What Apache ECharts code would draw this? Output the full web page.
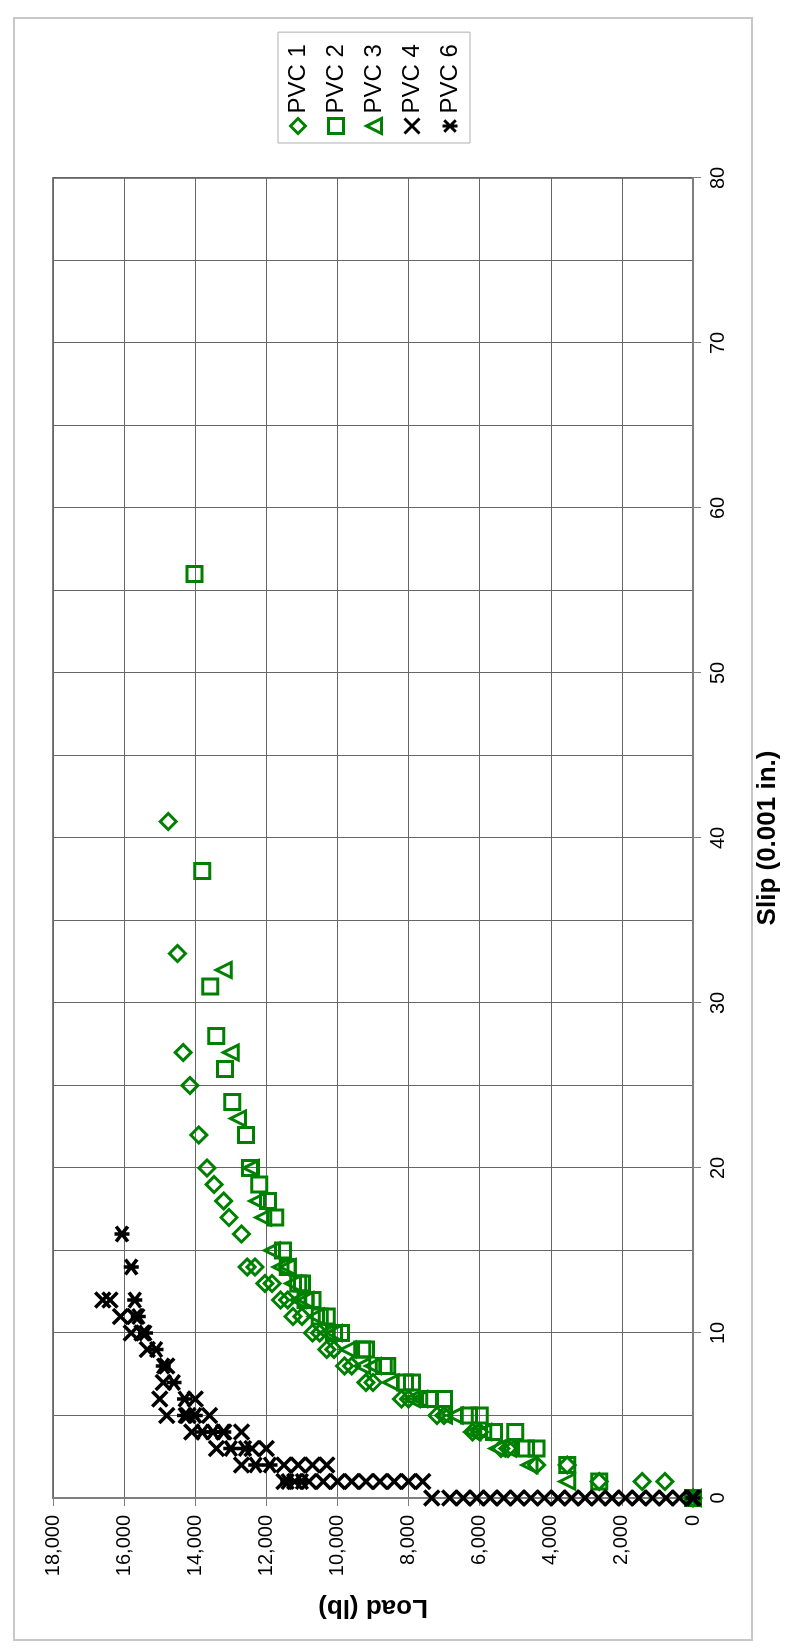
<!DOCTYPE html>
<html>
<head>
<meta charset="utf-8">
<title>Load vs Slip</title>
<script src="https://cdn.jsdelivr.net/npm/echarts@6/dist/echarts.min.js"></script>
<style>
  html, body { margin: 0; padding: 0; background: #fff; }
  #page { position: relative; width: 801px; height: 1648px; overflow: hidden; background: #fff; }
  /* the chart is laid out landscape and turned a quarter turn counter-clockwise */
  #chart {
    position: absolute; left: 0; top: 1648px;
    width: 1648px; height: 801px;
    transform-origin: 0 0; transform: rotate(-90deg);
  }
</style>
</head>
<body>
<div id="page"><div id="chart"></div></div>
<script>
// Slip in 0.001 in., load in lb
const slipTicks = [0, 10, 20, 30, 40, 50, 60, 70, 80];
const loadTicks = [0, 2000, 4000, 6000, 8000, 10000, 12000, 14000, 16000, 18000];

const pvc1Slip = [0, 1, 1, 1, 2, 2, 3, 3, 4, 4, 5, 5, 6, 6, 7, 7, 8, 8, 9, 9, 10, 10, 11, 11, 12, 12, 13, 13, 14, 14, 16, 17, 18, 19, 20, 22, 25, 27, 33, 41];
const pvc1Load = [0, 790, 1430, 2640, 3540, 4400, 5200, 5400, 6000, 6200, 7000, 7200, 8000, 8200, 9000, 9200, 9600, 9800, 10100, 10300, 10500, 10700, 11000, 11250, 11400, 11600, 11840, 12040, 12320, 12540, 12700, 13050, 13200, 13470, 13670, 13900, 14150, 14340, 14500, 14760];

const pvc2Slip = [0, 1, 2, 3, 3, 4, 4, 5, 5, 6, 6, 7, 7, 8, 8, 9, 9, 10, 10, 11, 11, 12, 12, 13, 13, 14, 15, 17, 18, 19, 20, 22, 24, 26, 28, 31, 38, 56];
const pvc2Load = [0, 2640, 3540, 4400, 4700, 5000, 5600, 6000, 6300, 7000, 7400, 7900, 8100, 8600, 8700, 9200, 9300, 9900, 10100, 10300, 10500, 10700, 10900, 11000, 11100, 11400, 11530, 11750, 11950, 12200, 12460, 12570, 12960, 13160, 13410, 13580, 13800, 14020];

const pvc3Slip = [0, 1, 2, 3, 3, 4, 4, 5, 5, 6, 6, 7, 8, 8, 9, 10, 10, 11, 12, 12, 13, 14, 14, 15, 17, 18, 20, 23, 27, 32];
const pvc3Load = [0, 3540, 4600, 5200, 5500, 5900, 6200, 6700, 7000, 7700, 7900, 8500, 9000, 9300, 9700, 10100, 10300, 10600, 10900, 11100, 11250, 11400, 11600, 11840, 12090, 12260, 12430, 12800, 13000, 13200];

const pvc4Slip = [0, 0, 0, 0, 0, 0, 0, 0, 0, 0, 0, 0, 0, 0, 0, 0, 0, 0, 0, 0,
                  1, 1, 1, 1, 1, 1, 1, 1, 1, 1, 1,
                  2, 2, 2, 2, 2, 3, 3, 3, 4, 4, 4, 5, 5, 5, 6, 6, 7, 8, 9, 10, 10, 11, 11, 12, 12];
const pvc4Load = [0, 380, 760, 1140, 1520, 1900, 2280, 2660, 3040, 3420, 3800, 4180, 4560, 4940, 5320, 5700, 6080, 6460, 6840, 7350,
                  7600, 8000, 8400, 8800, 9200, 9600, 10000, 10400, 10800, 11200, 11500,
                  10300, 10700, 11100, 11500, 12700, 12000, 12400, 13400, 12700, 13200, 14100, 13600, 14200, 14800, 14000, 15000, 14900, 14800, 15350, 15500, 15800, 15700, 16100, 16400, 16600];

const pvc6Slip = [0, 1, 1, 2, 2, 3, 3, 4, 4, 4, 5, 5, 6, 7, 8, 9, 10, 11, 12, 14, 16];
const pvc6Load = [0, 11000, 11400, 11900, 12300, 12600, 13000, 13200, 13500, 13800, 14000, 14300, 14300, 14600, 14900, 15100, 15400, 15600, 15700, 15800, 16060];

const seriesNames = ['PVC 1', 'PVC 2', 'PVC 3', 'PVC 4', 'PVC 6'];

const GREEN = '#008000';
const BLACK = '#000000';
const FONT = 'Liberation Sans, Arial, sans-serif';

const crossPath = 'path://M0,0L10,10M10,0L0,10';
const starPath = 'path://M0,0L10,10M10,0L0,10M5,-1.5L5,11.5';

function pairs(xs, ys) { return xs.map((x, i) => [x, ys[i]]); }

function hollow(color, width) {
  return { color: 'rgba(0,0,0,0)', borderColor: color, borderWidth: width, opacity: 1 };
}

const chart = echarts.init(document.getElementById('chart'), null, { renderer: 'canvas' });

const gridLine = { color: '#666666', width: 1 };
const axisGray = '#7f7f7f';

chart.setOption({
  backgroundColor: '#ffffff',
  animation: false,
  graphic: [{
    type: 'rect',
    shape: { x: 8, y: 14, width: 1622, height: 738 },
    style: { fill: 'none', stroke: '#c8c8c8', lineWidth: 2 },
    silent: true
  }],
  grid: {
    left: 150, right: 178, top: 53, bottom: 108,
    show: true, borderColor: axisGray, borderWidth: 2, backgroundColor: '#fff'
  },
  legend: {
    orient: 'vertical',
    left: 1505, top: 278,
    padding: [8, 12, 8, 8],
    itemWidth: 15, itemHeight: 15, itemGap: 14,
    borderColor: '#b0b0b0', borderWidth: 1,
    backgroundColor: '#fff',
    itemStyle: { borderWidth: 3 },
    textStyle: { fontSize: 24, color: '#000', fontFamily: FONT, lineHeight: 24 },
    data: seriesNames
  },
  xAxis: {
    type: 'value',
    min: slipTicks[0], max: slipTicks[slipTicks.length - 1], interval: 10,
    name: 'Slip (0.001 in.)',
    nameLocation: 'middle', nameGap: 62,
    nameTextStyle: { fontSize: 26, fontWeight: 'bold', color: '#000', fontFamily: FONT },
    axisLine: { show: true, onZero: false, lineStyle: { color: axisGray, width: 2 } },
    axisTick: { show: true, length: 8, lineStyle: { color: axisGray, width: 1 } },
    minorTick: { show: false, splitNumber: 2 },
    minorSplitLine: { show: true, lineStyle: gridLine },
    axisLabel: { fontSize: 20, color: '#000', margin: 15, fontFamily: FONT },
    splitLine: { show: true, lineStyle: gridLine }
  },
  yAxis: {
    type: 'value',
    min: loadTicks[0], max: loadTicks[loadTicks.length - 1], interval: 2000,
    name: 'Load (lb)',
    nameLocation: 'middle', nameGap: 96, nameRotate: 90,
    nameTextStyle: { fontSize: 26, fontWeight: 'bold', color: '#000', fontFamily: FONT },
    axisLine: { show: true, onZero: false, lineStyle: { color: axisGray, width: 2 } },
    axisTick: { show: true, length: 8, lineStyle: { color: axisGray, width: 1 } },
    axisLabel: {
      fontSize: 20, color: '#000', margin: 17, fontFamily: FONT,
      formatter: v => v.toLocaleString('en-US')
    },
    splitLine: { show: true, lineStyle: gridLine }
  },
  series: [
    {
      name: seriesNames[0], type: 'scatter', symbol: 'diamond', symbolSize: 16,
      itemStyle: hollow(GREEN, 3),
      data: pairs(pvc1Slip, pvc1Load)
    },
    {
      name: seriesNames[1], type: 'scatter', symbol: 'rect', symbolSize: 15,
      itemStyle: hollow(GREEN, 3),
      data: pairs(pvc2Slip, pvc2Load)
    },
    {
      name: seriesNames[2], type: 'scatter', symbol: 'triangle', symbolSize: 15,
      itemStyle: hollow(GREEN, 3),
      data: pairs(pvc3Slip, pvc3Load)
    },
    {
      name: seriesNames[3], type: 'scatter', symbol: crossPath, symbolSize: 15,
      itemStyle: hollow(BLACK, 3.5),
      data: pairs(pvc4Slip, pvc4Load)
    },
    {
      name: seriesNames[4], type: 'scatter', symbol: starPath, symbolSize: 15,
      itemStyle: hollow(BLACK, 3.5),
      data: pairs(pvc6Slip, pvc6Load)
    }
  ]
});
</script>
</body>
</html>
